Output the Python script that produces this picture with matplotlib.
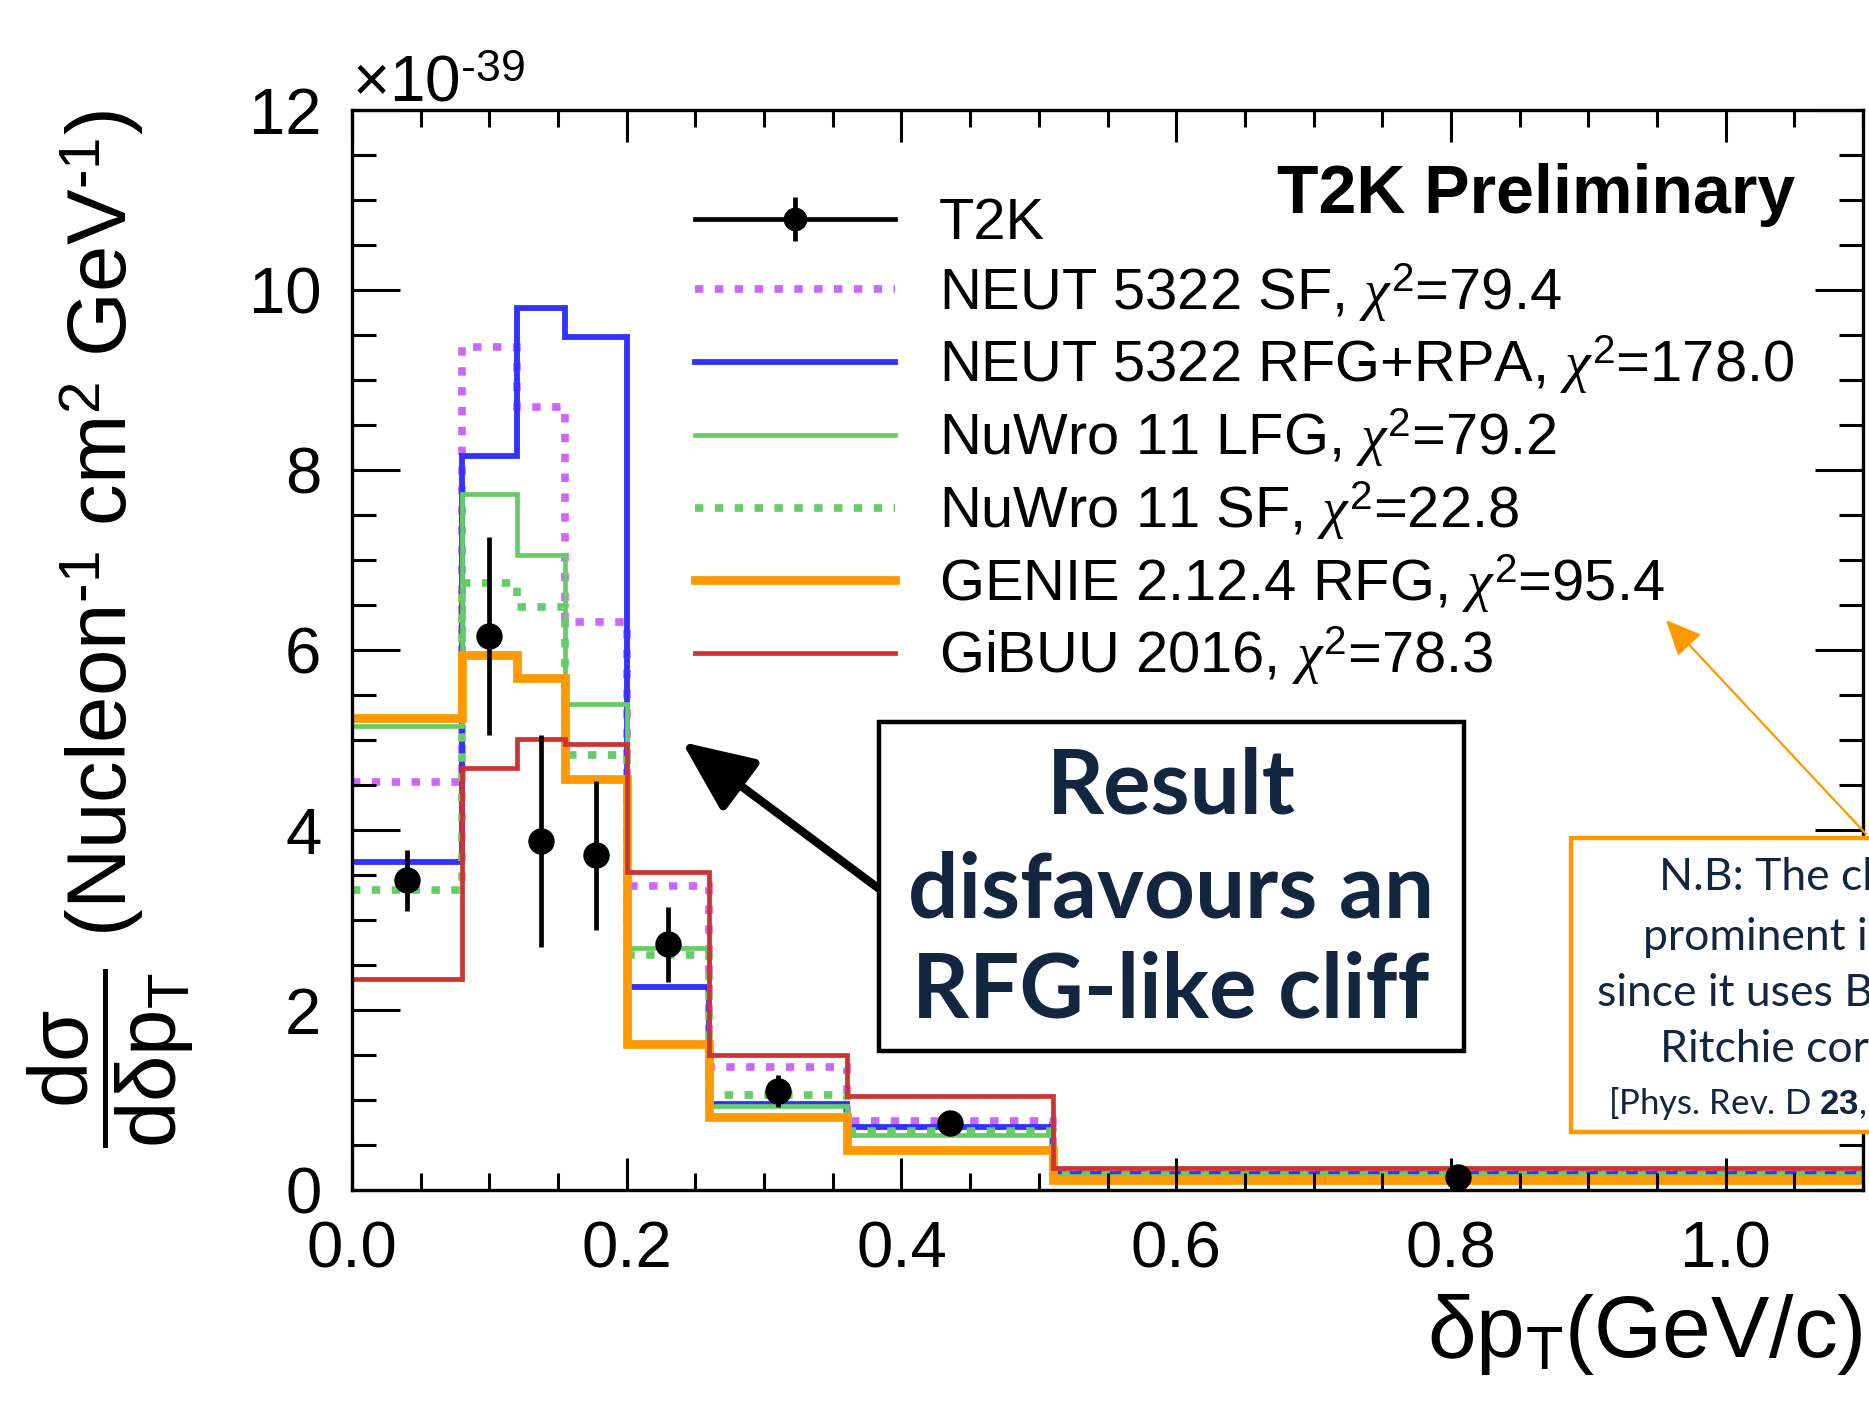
import matplotlib
matplotlib.use("Agg")
import matplotlib.pyplot as plt
from matplotlib.lines import Line2D
from matplotlib.patches import Rectangle
from matplotlib.ticker import MultipleLocator, FormatStrFormatter

plt.rcParams["font.family"] = ["Liberation Sans", "DejaVu Sans"]
plt.rcParams["mathtext.fontset"] = "custom"
plt.rcParams["mathtext.rm"] = "Liberation Sans"
plt.rcParams["mathtext.it"] = "Liberation Serif:italic"
plt.rcParams["mathtext.bf"] = "Liberation Sans:bold"

# dpT binning (GeV/c)
bin_edges = [0.0, 0.08, 0.12, 0.155, 0.2, 0.26, 0.36, 0.51, 1.1]
bin_centres = [(a + b) / 2 for a, b in zip(bin_edges[:-1], bin_edges[1:])]

# cross sections, units of 1e-39 cm^2 / nucleon / GeV
t2k = [3.44, 6.16, 3.88, 3.72, 2.73, 1.10, 0.74, 0.14]
t2k_err = [0.34, 1.10, 1.18, 0.83, 0.42, 0.18, 0.06, 0.02]

neut_sf = [4.53, 9.37, 8.70, 6.31, 3.38, 1.37, 0.77, 0.19]
neut_rfg = [3.65, 8.16, 9.80, 9.48, 2.26, 0.96, 0.70, 0.18]
nuwro_lfg = [5.16, 7.73, 7.06, 5.40, 2.69, 0.93, 0.61, 0.16]
nuwro_sf = [3.33, 6.75, 6.48, 4.83, 2.61, 1.06, 0.66, 0.17]
genie_rfg = [5.25, 5.94, 5.69, 4.57, 1.62, 0.81, 0.44, 0.11]
gibuu = [2.34, 4.69, 5.01, 4.96, 3.53, 1.50, 1.04, 0.24]

model_names = ["NEUT 5322 SF", "NEUT 5322 RFG+RPA", "NuWro 11 LFG",
               "NuWro 11 SF", "GENIE 2.12.4 RFG", "GiBUU 2016"]
chi2 = ["79.4", "178.0", "79.2", "22.8", "95.4", "78.3"]

W, H = 1869, 1403
fx = lambda px: px / W
fy = lambda py: 1 - py / H

dotted = (0, (1.1, 1.5))
models = [
    (neut_sf, "#cc66ff", 5.5, dotted),
    (neut_rfg, "#3333ff", 4.2, "-"),
    (nuwro_lfg, "#66cc66", 3.4, "-"),
    (nuwro_sf, "#66cc66", 5.5, dotted),
    (genie_rfg, "#ff9900", 6.3, "-"),
    (gibuu, "#cc3333", 3.4, "-"),
]

fig = plt.figure(figsize=(W / 100, H / 100), dpi=100)
ax = fig.add_axes([fx(352), fy(1190), fx(1863) - fx(352), fy(110) - fy(1190)])

handles = []
for (vals, col, lw, ls), name, c2 in zip(models, model_names, chi2):
    ax.stairs(vals, bin_edges, color=col, lw=lw, ls=ls, baseline=None)
    handles.append(Line2D([], [], color=col, lw=lw, ls=ls, dash_capstyle="butt",
                          label=f"{name}, $\\chi^{{2}}$=" + c2))

ax.errorbar(bin_centres, t2k, yerr=t2k_err, fmt="o", color="black", ms=18,
            elinewidth=3.4, capsize=0, zorder=10)

t2k_handle = (Line2D([], [], color="black", lw=3.4),
              Line2D([], [], color="black", marker="o", ls="", ms=16),
              Line2D([], [], color="black", marker="|", ls="", ms=32, mew=3.4))
leg = ax.legend([t2k_handle] + handles, ["T2K"] + [h.get_label() for h in handles],
                loc="upper left", bbox_to_anchor=(fx(695), fy(197)),
                bbox_transform=fig.transFigure, frameon=False, fontsize=41.7,
                handlelength=3.45, handletextpad=0.76, labelspacing=0.17,
                borderpad=0, borderaxespad=0)

ax.set_xlim(0, 1.1)
ax.set_ylim(0, 12)
ax.xaxis.set_major_locator(MultipleLocator(0.2))
ax.xaxis.set_minor_locator(MultipleLocator(0.05))
ax.yaxis.set_major_locator(MultipleLocator(2))
ax.yaxis.set_minor_locator(MultipleLocator(0.5))
ax.xaxis.set_major_formatter(FormatStrFormatter("%.1f"))
ax.tick_params(which="both", direction="in", top=True, right=True, width=2.2,
               labelsize=47)
ax.tick_params(axis="y", which="major", length=34.5, pad=22)
ax.tick_params(axis="y", which="minor", length=17)
ax.tick_params(axis="x", which="major", length=23, pad=22)
ax.tick_params(axis="x", which="minor", length=12)
for s in ax.spines.values():
    s.set_linewidth(2.4)

ax.set_xlabel(r"$\mathrm{\delta}$p$_{\mathrm{T}}$(GeV/c)", fontsize=63,
              loc="right", labelpad=8)
ax.set_ylabel(r"$\dfrac{\mathrm{d\sigma}}{\mathrm{d\delta p_{T}}}$ "
              "(Nucleon$^{\u20101}$ cm$^{2}$ GeV$^{\u20101}$)", fontsize=60,
              loc="top", labelpad=38)

fig.text(fx(352), fy(101), "×10$^{\u201039}$", fontsize=46, va="baseline")
fig.text(fx(1795), fy(213), "T2K Preliminary", fontsize=49, weight="bold",
         ha="right", va="baseline")

# annotation box
navy = "#13263f"
fig.patches.append(Rectangle((fx(879), fy(1051)), fx(1464) - fx(879),
                             fy(722) - fy(1051), transform=fig.transFigure,
                             fc="white", ec="black", lw=3.2, zorder=20))
for line, yp in zip(["Result", "disfavours an", "RFG-like cliff"], [787, 892, 992]):
    fig.text(fx(1171), fy(yp), line, fontsize=64, weight="bold", color=navy,
             family="Lato", ha="center", va="center", zorder=25)
ax.annotate("", xy=(fx(682), fy(742)), xytext=(fx(878), fy(888)),
            xycoords="figure fraction", textcoords="figure fraction",
            arrowprops=dict(arrowstyle="-|>,head_length=1.0,head_width=0.44",
                            mutation_scale=44, lw=6, color="black",
                            shrinkA=0, shrinkB=0))

# N.B. box (runs off the right edge)
orange = "#ff9900"
fig.patches.append(Rectangle((fx(1571), fy(1132)), fx(1600), fy(838) - fy(1132),
                             transform=fig.transFigure, fc="white", ec=orange,
                             lw=3.2, zorder=20))
nb_lines = [("N.B: The cliff is more", 1659, 878, 32),
            ("prominent in GENIE", 1643, 937, 32),
            ("since it uses Bodek-", 1597, 993, 32),
            ("Ritchie correction", 1660, 1050, 32)]
for txt, xp, yp, fs in nb_lines:
    fig.text(fx(xp), fy(yp), txt, fontsize=fs, color=navy, family="Lato",
             ha="left", va="center", zorder=25)
fig.text(fx(1608), fy(1103), r"[Phys. Rev. D $\mathbf{23}$, 1070 (1981)]",
         fontsize=25, color=navy, family="Lato", ha="left", va="center",
         zorder=25)
ax.annotate("", xy=(fx(1666), fy(620)), xytext=(fx(1866), fy(834)),
            xycoords="figure fraction", textcoords="figure fraction",
            arrowprops=dict(arrowstyle="-|>,head_length=1.0,head_width=0.45",
                            mutation_scale=22, lw=1.6, color=orange,
                            shrinkA=0, shrinkB=0))

fig.savefig("out.png", dpi=100)
